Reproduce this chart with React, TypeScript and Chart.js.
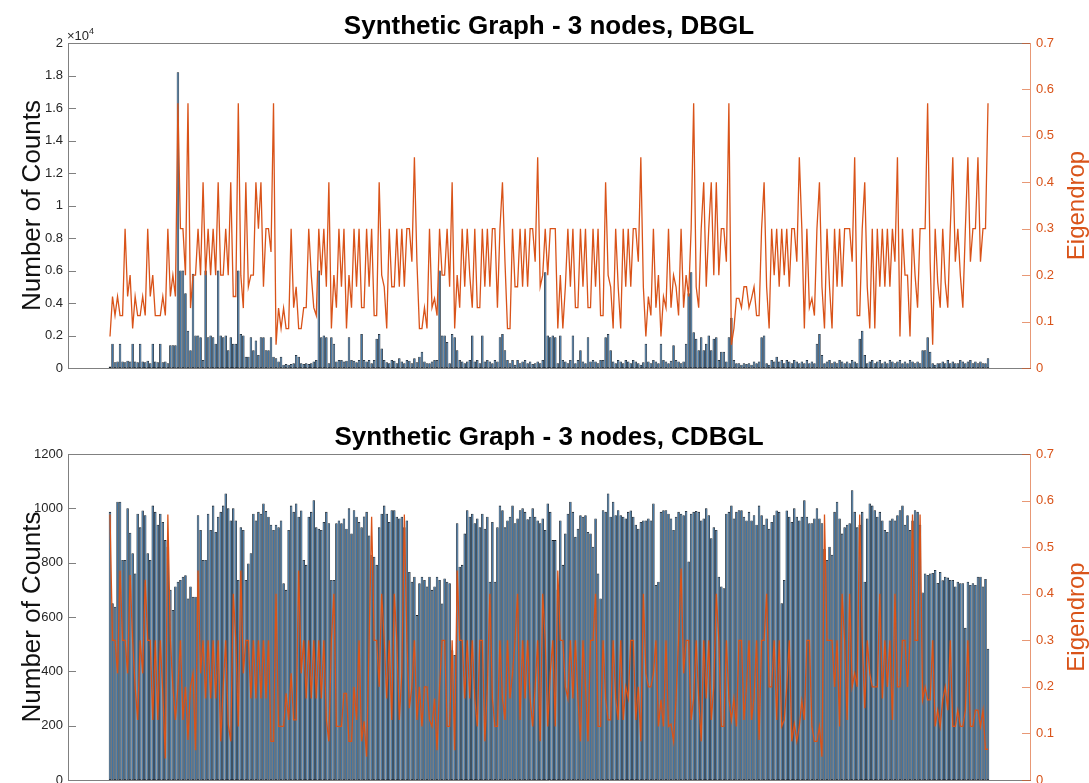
import React, { useEffect, useRef } from 'react';
import { Chart, registerables } from 'chart.js';

Chart.register(...registerables);

// ---------- DATA ----------
const dbglCounts = [
  100, 1500, 350, 400, 1500, 400, 350, 450, 400, 1500, 400, 350, 1500, 400, 350, 450, 300, 1500, 400, 350, 1500, 350, 400, 300, 1400,
  1400, 1400, 18200, 6000, 6000, 4600, 2300, 1100, 5800, 2000, 2000, 1900, 500, 6000, 1900, 2000, 1900, 1500, 6000, 2000, 1900, 2000, 1100, 1900, 1500,
  1500, 6000, 2100, 2000, 700, 700, 1900, 1100, 1700, 800, 1900, 1900, 1100, 1100, 1900, 700, 600, 400, 700, 200, 250, 200, 250, 300, 800,
  700, 300, 250, 300, 250, 300, 400, 500, 6000, 1900, 2000, 1900, 300, 1900, 1500, 400, 500, 500, 400, 450, 1900, 500, 450, 350, 500,
  2100, 500, 400, 500, 300, 500, 1800, 2100, 1200, 500, 350, 300, 500, 450, 300, 600, 400, 300, 500, 450, 300, 600, 350, 700, 1000,
  400, 300, 300, 400, 500, 500, 6000, 2000, 2000, 1600, 300, 2100, 1900, 1100, 500, 400, 300, 400, 500, 2000, 400, 500, 300, 2000, 400,
  500, 400, 300, 500, 400, 1900, 2100, 1100, 500, 300, 500, 200, 500, 300, 400, 500, 300, 400, 250, 300, 400, 300, 500, 5900, 2000,
  1900, 2000, 1900, 300, 2000, 500, 400, 300, 500, 2000, 300, 500, 1100, 400, 300, 1900, 400, 500, 400, 300, 500, 500, 1900, 2100, 1100,
  400, 300, 500, 400, 300, 500, 400, 300, 500, 400, 300, 200, 350, 1500, 400, 300, 500, 400, 300, 1500, 500, 400, 300, 450, 1400,
  500, 400, 300, 400, 1500, 4600, 5900, 2200, 1800, 1100, 1900, 1100, 1500, 2000, 1100, 1800, 1900, 500, 1000, 1000, 400, 1900, 3100, 500, 300,
  300, 200, 300, 250, 300, 200, 400, 300, 400, 1900, 2000, 300, 200, 500, 400, 700, 400, 500, 300, 500, 400, 300, 500, 400, 300,
  400, 300, 500, 300, 400, 300, 1500, 2100, 800, 300, 400, 500, 300, 400, 300, 500, 400, 300, 400, 300, 500, 400, 300, 1800, 2300,
  800, 300, 400, 500, 300, 400, 500, 300, 400, 300, 500, 400, 300, 400, 500, 300, 400, 300, 500, 400, 300, 400, 300, 1100, 1100,
  1900, 1000, 300, 200, 300, 300, 400, 300, 500, 300, 400, 300, 300, 500, 400, 300, 400, 500, 300, 400, 300, 400, 300, 300, 600,
];

const dbglEigendrop = [
  0.068, 0.154, 0.113, 0.154, 0.113, 0.113, 0.3, 0.154, 0.2, 0.085, 0.154, 0.113, 0.113, 0.154, 0.113, 0.3, 0.154, 0.2, 0.113, 0.113, 0.113, 0.154, 0.113, 0.3, 0.154,
  0.2, 0.154, 0.57, 0.3, 0.3, 0.2, 0.57, 0.129, 0.2, 0.2, 0.3, 0.2, 0.4, 0.2, 0.3, 0.2, 0.3, 0.2, 0.4, 0.2, 0.2, 0.3, 0.2, 0.4, 0.154,
  0.154, 0.57, 0.2, 0.129, 0.4, 0.175, 0.2, 0.2, 0.4, 0.3, 0.4, 0.175, 0.3, 0.3, 0.25, 0.57, 0.05, 0.129, 0.085, 0.129, 0.085, 0.085, 0.3, 0.13, 0.175,
  0.085, 0.085, 0.13, 0.13, 0.3, 0.2, 0.13, 0.113, 0.3, 0.2, 0.3, 0.175, 0.4, 0.085, 0.2, 0.13, 0.3, 0.175, 0.3, 0.085, 0.2, 0.13, 0.3, 0.175, 0.3,
  0.13, 0.13, 0.3, 0.175, 0.3, 0.113, 0.113, 0.4, 0.2, 0.175, 0.085, 0.3, 0.175, 0.175, 0.3, 0.175, 0.3, 0.175, 0.3, 0.3, 0.229, 0.454, 0.229, 0.085, 0.085,
  0.13, 0.085, 0.3, 0.13, 0.15, 0.113, 0.3, 0.2, 0.2, 0.3, 0.175, 0.4, 0.085, 0.2, 0.13, 0.3, 0.175, 0.3, 0.2, 0.13, 0.3, 0.13, 0.13, 0.3, 0.175,
  0.3, 0.175, 0.3, 0.3, 0.13, 0.3, 0.4, 0.229, 0.085, 0.085, 0.3, 0.175, 0.175, 0.3, 0.175, 0.3, 0.175, 0.3, 0.3, 0.229, 0.454, 0.175, 0.2, 0.3, 0.2,
  0.3, 0.3, 0.3, 0.085, 0.2, 0.085, 0.175, 0.3, 0.175, 0.3, 0.13, 0.13, 0.3, 0.175, 0.3, 0.13, 0.13, 0.3, 0.175, 0.3, 0.113, 0.113, 0.4, 0.2, 0.175,
  0.085, 0.3, 0.175, 0.085, 0.3, 0.175, 0.3, 0.175, 0.3, 0.3, 0.229, 0.454, 0.175, 0.068, 0.154, 0.113, 0.3, 0.13, 0.2, 0.068, 0.154, 0.13, 0.3, 0.13, 0.2,
  0.175, 0.113, 0.3, 0.13, 0.2, 0.154, 0.3, 0.57, 0.175, 0.13, 0.3, 0.4, 0.175, 0.3, 0.4, 0.2, 0.4, 0.2, 0.3, 0.3, 0.229, 0.57, 0.05, 0.085, 0.15,
  0.15, 0.13, 0.175, 0.175, 0.13, 0.15, 0.175, 0.113, 0.113, 0.3, 0.4, 0.175, 0.085, 0.3, 0.2, 0.3, 0.175, 0.3, 0.2, 0.3, 0.175, 0.3, 0.3, 0.229, 0.454,
  0.3, 0.085, 0.3, 0.13, 0.15, 0.113, 0.3, 0.4, 0.175, 0.085, 0.3, 0.175, 0.085, 0.3, 0.175, 0.3, 0.175, 0.3, 0.3, 0.3, 0.229, 0.454, 0.113, 0.113, 0.3,
  0.4, 0.175, 0.085, 0.3, 0.085, 0.3, 0.175, 0.3, 0.175, 0.3, 0.175, 0.3, 0.229, 0.454, 0.068, 0.3, 0.2, 0.2, 0.068, 0.3, 0.2, 0.13, 0.3, 0.3, 0.3,
  0.57, 0.229, 0.05, 0.3, 0.185, 0.13, 0.3, 0.185, 0.13, 0.3, 0.454, 0.229, 0.3, 0.2, 0.13, 0.3, 0.454, 0.229, 0.3, 0.3, 0.454, 0.229, 0.3, 0.3, 0.57,
];

const cdbglCounts = [
  987, 651, 638, 1024, 1024, 810, 810, 1000, 910, 835, 760, 980, 930, 992, 975, 835, 810, 1010, 987, 940, 980, 950, 883, 859, 700,
  626, 712, 730, 736, 748, 754, 668, 712, 675, 675, 975, 920, 810, 810, 980, 920, 1010, 913, 969, 987, 1010, 1055, 1000, 955, 1000,
  955, 736, 930, 920, 736, 797, 835, 980, 955, 987, 980, 1018, 990, 969, 940, 920, 940, 930, 955, 724, 700, 920, 1010, 987, 1018,
  969, 992, 810, 792, 969, 987, 1030, 930, 925, 920, 950, 987, 945, 736, 736, 945, 955, 945, 963, 925, 1000, 907, 993, 969, 950,
  930, 970, 987, 900, 829, 822, 792, 930, 980, 1010, 980, 950, 993, 993, 969, 963, 969, 930, 955, 766, 730, 748, 607, 724, 748,
  736, 712, 748, 700, 712, 748, 736, 650, 742, 730, 724, 478, 460, 945, 785, 792, 907, 993, 969, 980, 945, 963, 930, 980, 925,
  969, 730, 950, 730, 930, 1010, 993, 930, 955, 969, 1010, 945, 963, 993, 1000, 987, 960, 969, 1000, 969, 955, 945, 963, 920, 1018,
  987, 883, 883, 700, 955, 792, 907, 980, 1024, 987, 895, 925, 975, 969, 975, 913, 907, 859, 963, 760, 668, 993, 987, 1055, 969,
  1024, 975, 993, 975, 969, 963, 987, 992, 969, 940, 925, 950, 955, 955, 963, 955, 1018, 718, 730, 987, 993, 993, 980, 963, 920,
  969, 987, 980, 975, 990, 804, 980, 987, 990, 987, 955, 963, 1000, 975, 890, 930, 920, 748, 712, 706, 980, 987, 1010, 963, 987,
  993, 993, 969, 955, 987, 955, 975, 940, 1010, 975, 940, 963, 925, 950, 975, 992, 987, 651, 736, 992, 969, 950, 1000, 969, 955,
  969, 1030, 969, 945, 945, 963, 1000, 963, 945, 850, 810, 859, 829, 987, 1024, 963, 907, 930, 940, 945, 1067, 987, 930, 940, 987,
  730, 963, 1018, 1010, 993, 969, 987, 955, 920, 913, 955, 963, 955, 975, 993, 1010, 940, 975, 920, 955, 993, 987, 940, 690, 760,
  755, 760, 762, 773, 725, 766, 735, 748, 745, 736, 736, 712, 730, 724, 724, 560, 730, 718, 724, 718, 748, 748, 712, 740, 483,
];

const cdbglEigendrop = [
  0.57, 0.3, 0.3, 0.229, 0.45, 0.3, 0.3, 0.229, 0.44, 0.3, 0.2, 0.129, 0.3, 0.229, 0.43, 0.3, 0.3, 0.129, 0.3, 0.129, 0.3, 0.186, 0.046, 0.57, 0.3,
  0.2, 0.129, 0.2, 0.3, 0.129, 0.2, 0.086, 0.2, 0.229, 0.064, 0.45, 0.229, 0.3, 0.175, 0.3, 0.175, 0.3, 0.175, 0.3, 0.083, 0.2, 0.3, 0.12, 0.083, 0.4,
  0.3, 0.115, 0.45, 0.229, 0.3, 0.3, 0.175, 0.3, 0.175, 0.3, 0.175, 0.3, 0.175, 0.3, 0.083, 0.083, 0.4, 0.115, 0.115, 0.115, 0.186, 0.129, 0.229, 0.129, 0.129,
  0.45, 0.229, 0.3, 0.175, 0.3, 0.175, 0.3, 0.175, 0.3, 0.175, 0.3, 0.129, 0.083, 0.3, 0.4, 0.115, 0.115, 0.115, 0.186, 0.186, 0.083, 0.083, 0.2, 0.129, 0.3,
  0.083, 0.126, 0.05, 0.3, 0.565, 0.3, 0.3, 0.2, 0.4, 0.3, 0.175, 0.3, 0.129, 0.4, 0.3, 0.129, 0.229, 0.57, 0.3, 0.154, 0.2, 0.3, 0.129, 0.2, 0.115,
  0.2, 0.2, 0.129, 0.115, 0.175, 0.064, 0.2, 0.3, 0.3, 0.115, 0.115, 0.3, 0.064, 0.45, 0.3, 0.3, 0.175, 0.3, 0.175, 0.3, 0.175, 0.115, 0.3, 0.3, 0.083,
  0.2, 0.4, 0.175, 0.115, 0.115, 0.3, 0.175, 0.129, 0.3, 0.175, 0.229, 0.3, 0.4, 0.129, 0.3, 0.175, 0.3, 0.175, 0.115, 0.2, 0.3, 0.083, 0.4, 0.3, 0.115,
  0.229, 0.3, 0.115, 0.45, 0.3, 0.3, 0.2, 0.175, 0.3, 0.175, 0.3, 0.175, 0.083, 0.3, 0.2, 0.083, 0.3, 0.3, 0.4, 0.115, 0.115, 0.3, 0.175, 0.129, 0.129,
  0.3, 0.175, 0.129, 0.3, 0.129, 0.2, 0.175, 0.3, 0.3, 0.129, 0.2, 0.083, 0.4, 0.229, 0.2, 0.2, 0.229, 0.3, 0.115, 0.172, 0.115, 0.3, 0.115, 0.12, 0.083,
  0.175, 0.3, 0.454, 0.229, 0.3, 0.3, 0.129, 0.175, 0.3, 0.175, 0.083, 0.3, 0.175, 0.3, 0.129, 0.2, 0.4, 0.3, 0.115, 0.115, 0.3, 0.175, 0.129, 0.175, 0.115,
  0.3, 0.3, 0.129, 0.2, 0.3, 0.129, 0.175, 0.3, 0.086, 0.3, 0.3, 0.4, 0.2, 0.2, 0.3, 0.129, 0.3, 0.115, 0.129, 0.2, 0.3, 0.083, 0.12, 0.083, 0.115,
  0.17, 0.129, 0.3, 0.3, 0.115, 0.083, 0.083, 0.115, 0.05, 0.57, 0.3, 0.3, 0.3, 0.2, 0.3, 0.115, 0.4, 0.3, 0.129, 0.4, 0.2, 0.229, 0.2, 0.57, 0.3,
  0.154, 0.3, 0.229, 0.2, 0.2, 0.2, 0.4, 0.175, 0.3, 0.2, 0.3, 0.129, 0.4, 0.2, 0.2, 0.3, 0.3, 0.2, 0.3, 0.57, 0.3, 0.3, 0.57, 0.172, 0.2,
  0.172, 0.172, 0.3, 0.115, 0.15, 0.115, 0.172, 0.2, 0.15, 0.3, 0.115, 0.115, 0.15, 0.115, 0.115, 0.15, 0.3, 0.115, 0.115, 0.15, 0.15, 0.115, 0.15, 0.066, 0.066,
];

// ---------- STYLE ----------
const FONT = '"Liberation Sans", Arial, Helvetica, sans-serif';
const BAR_FILL = '#30699c';
const BAR_EDGE = '#131d27';
const ORANGE = '#D95319';
const ORANGE_AXIS = 'rgba(217,83,25,0.6)';
const AXIS = '#808080';
const TEXT = '#262626';
const W = 1089;
const X_MIN = -15.69;
const X_MAX = 366.69;

type Spec = {
  title: string;
  counts: number[];
  eig: number[];
  countMax: number;
  countStep: number;
  countDiv: number;
  exponent: string | null;
  height: number;
  plotTop: number;
  plotBottom: number;
  titleY: number;
};

const fmt = (v: number) => String(+v.toFixed(1));

function decorPlugin(spec: Spec) {
  return {
    id: 'decor',
    afterDraw(chart: any) {
      const { ctx, chartArea: a, scales } = chart;
      ctx.save();
      ctx.strokeStyle = AXIS;
      ctx.lineWidth = 1;
      ctx.beginPath();
      ctx.moveTo(a.left, Math.round(a.top) + 0.5);
      ctx.lineTo(a.right, Math.round(a.top) + 0.5);
      ctx.stroke();
      const tickMarks = (scale: any, x0: number, dir: number, color: string) => {
        ctx.strokeStyle = color;
        ctx.beginPath();
        for (const t of scale.ticks) {
          const y = Math.round(scale.getPixelForValue(t.value)) + 0.5;
          ctx.moveTo(x0, y);
          ctx.lineTo(x0 + dir * 8, y);
        }
        ctx.stroke();
      };
      tickMarks(scales.y, a.left, 1, AXIS);
      tickMarks(scales.y1, a.right, -1, ORANGE_AXIS);
      ctx.fillStyle = '#000';
      ctx.textAlign = 'center';
      ctx.textBaseline = 'middle';
      ctx.font = `bold 26px ${FONT}`;
      ctx.fillText(spec.title, (a.left + a.right) / 2, spec.titleY);
      const midY = (a.top + a.bottom) / 2;
      ctx.font = `26px ${FONT}`;
      ctx.save();
      ctx.translate(33, midY);
      ctx.rotate(-Math.PI / 2);
      ctx.fillStyle = '#111';
      ctx.fillText('Number of Counts', 0, 0);
      ctx.restore();
      ctx.font = `24px ${FONT}`;
      ctx.save();
      ctx.translate(1077, midY);
      ctx.rotate(-Math.PI / 2);
      ctx.fillStyle = ORANGE;
      ctx.fillText('Eigendrop', 0, 0);
      ctx.restore();
      if (spec.exponent) {
        ctx.fillStyle = TEXT;
        ctx.textAlign = 'left';
        ctx.textBaseline = 'alphabetic';
        ctx.font = `13px ${FONT}`;
        const base = '\u00d710';
        ctx.fillText(base, a.left - 1, a.top - 3);
        const wb = ctx.measureText(base).width;
        ctx.font = `9px ${FONT}`;
        ctx.fillText(spec.exponent, a.left - 1 + wb, a.top - 9);
      }
      ctx.restore();
    },
  };
}

function makeChart(canvas: HTMLCanvasElement, spec: Spec) {
  const labels = spec.counts.map((_, i) => i + 1);
  return new Chart(canvas, {
    type: 'bar',
    data: {
      labels,
      datasets: [
        {
          type: 'line',
          data: spec.eig,
          yAxisID: 'y1',
          borderColor: ORANGE,
          borderWidth: 1.3,
          pointRadius: 0,
          tension: 0,
          order: 1,
        } as any,
        {
          type: 'bar',
          data: spec.counts,
          yAxisID: 'y',
          backgroundColor: BAR_FILL,
          borderColor: BAR_EDGE,
          borderWidth: 0.8,
          borderSkipped: false,
          barPercentage: 1,
          categoryPercentage: 1,
          inflateAmount: 0,
          order: 2,
        } as any,
      ],
    },
    options: {
      responsive: false,
      animation: false,
      events: [],
      layout: { padding: { top: spec.plotTop, left: 0, right: 0, bottom: 0 } },
      plugins: {
        legend: { display: false },
        tooltip: { enabled: false },
        title: { display: false },
      },
      scales: {
        x: {
          type: 'linear',
          offset: false,
          bounds: 'data',
          min: X_MIN,
          max: X_MAX,
          ticks: { display: false },
          grid: { display: false, drawTicks: false },
          border: { display: true, color: AXIS, width: 1 },
          afterFit: (s: any) => {
            s.height = spec.height - spec.plotBottom;
          },
        },
        y: {
          position: 'left',
          min: 0,
          max: spec.countMax,
          ticks: {
            stepSize: spec.countStep,
            color: TEXT,
            font: { family: FONT, size: 13 },
            padding: 5,
            callback: (v: any) => fmt(Number(v) / spec.countDiv),
          },
          grid: { display: false, drawTicks: false },
          border: { display: true, color: AXIS, width: 1 },
          afterFit: (s: any) => {
            s.width = 68;
          },
        },
        y1: {
          position: 'right',
          min: 0,
          max: 0.7,
          ticks: {
            stepSize: 0.1,
            color: ORANGE,
            font: { family: FONT, size: 13 },
            padding: 6,
            callback: (v: any) => fmt(Number(v)),
          },
          grid: { display: false, drawTicks: false },
          border: { display: true, color: ORANGE_AXIS, width: 1 },
          afterFit: (s: any) => {
            s.width = W - 1030;
          },
        },
      },
    } as any,
    plugins: [decorPlugin(spec)],
  });
}

const topSpec: Spec = {
  title: 'Synthetic Graph - 3 nodes, DBGL',
  counts: dbglCounts,
  eig: dbglEigendrop,
  countMax: 20000,
  countStep: 2000,
  countDiv: 10000,
  exponent: '4',
  height: 400,
  plotTop: 43,
  plotBottom: 368,
  titleY: 27,
};

const bottomSpec: Spec = {
  title: 'Synthetic Graph - 3 nodes, CDBGL',
  counts: cdbglCounts,
  eig: cdbglEigendrop,
  countMax: 1200,
  countStep: 200,
  countDiv: 1,
  exponent: null,
  height: 400,
  plotTop: 54,
  plotBottom: 380,
  titleY: 38,
};

function Panel({ spec, top }: { spec: Spec; top: number }) {
  const ref = useRef<HTMLCanvasElement | null>(null);
  useEffect(() => {
    if (!ref.current) return;
    const chart = makeChart(ref.current, spec);
    return () => chart.destroy();
  }, [spec]);
  return (
    <canvas
      ref={ref}
      width={W}
      height={spec.height}
      style={{ position: 'absolute', left: 0, top, width: W, height: spec.height, display: 'block' }}
    />
  );
}

export default function App() {
  return (
    <div
      style={{
        position: 'fixed',
        left: 0,
        top: 0,
        width: W,
        height: 783,
        overflow: 'hidden',
        background: '#fff',
      }}
    >
      <Panel spec={topSpec} top={0} />
      <Panel spec={bottomSpec} top={400} />
    </div>
  );
}
